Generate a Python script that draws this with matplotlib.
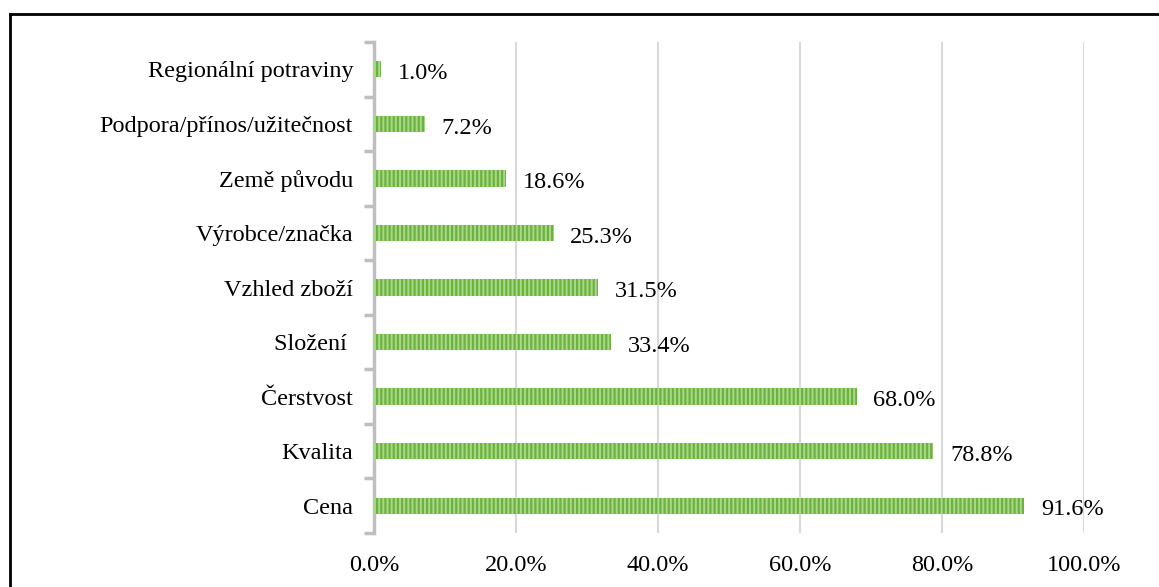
import matplotlib
matplotlib.use('Agg')
import matplotlib.pyplot as plt
from matplotlib.lines import Line2D

plt.rcParams['font.family'] = ['Liberation Serif', 'DejaVu Serif']
plt.rcParams['hatch.linewidth'] = 1.6

categories = ['Cena', 'Kvalita', 'Čerstvost', 'Složení ', 'Vzhled zboží',
              'Výrobce/značka', 'Země původu', 'Podpora/přínos/užitečnost',
              'Regionální potraviny']
values = [91.6, 78.8, 68.0, 33.4, 31.5, 25.3, 18.6, 7.2, 1.0]
xticks = [0, 20, 40, 60, 80, 100]

fig = plt.figure(figsize=(11.59, 5.87), dpi=100)
ax = fig.add_axes([374 / 1159, 1 - 533 / 587, 710 / 1159, 491 / 587])

y = range(len(categories))
ax.barh(y, values, height=0.3, color='#a8d88a', edgecolor='#6cb33e',
        linewidth=0, hatch='||||', zorder=3)
for i, v in enumerate(values):
    ax.annotate(f'{v:.1f}%', (v, i), xytext=(12, -3), textcoords='offset points',
                va='center', ha='left', fontsize=17.5)

ax.set_xlim(0, 100)
ax.set_ylim(-0.5, len(categories) - 0.5)
ax.set_xticks(xticks)
ax.set_xticklabels([f'{t:.1f}%' for t in xticks], fontsize=17.5)
ax.set_yticks(list(y))
ax.set_yticklabels(categories, fontsize=17.5)
ax.set_yticks([i - 0.5 for i in range(len(categories) + 1)], minor=True)
ax.tick_params(axis='y', which='major', length=0, pad=15)
ax.tick_params(axis='y', which='minor', length=7, width=2.5, color='#bfbfbf')
ax.tick_params(axis='x', length=0, pad=16)
ax.grid(axis='x', color='#d9d9d9', linewidth=1.5, zorder=0)
for s in ['top', 'right', 'bottom']:
    ax.spines[s].set_visible(False)
ax.spines['left'].set_color('#bfbfbf')
ax.spines['left'].set_linewidth(2.5)

# outer frame (top and left edges visible in the reference)
fig.add_artist(Line2D([10 / 1159, 1], [1 - 14 / 587, 1 - 14 / 587],
                      transform=fig.transFigure, color='black', linewidth=2))
fig.add_artist(Line2D([10 / 1159, 10 / 1159], [0, 1 - 14 / 587],
                      transform=fig.transFigure, color='black', linewidth=2))

fig.savefig('out.png', dpi=100)
